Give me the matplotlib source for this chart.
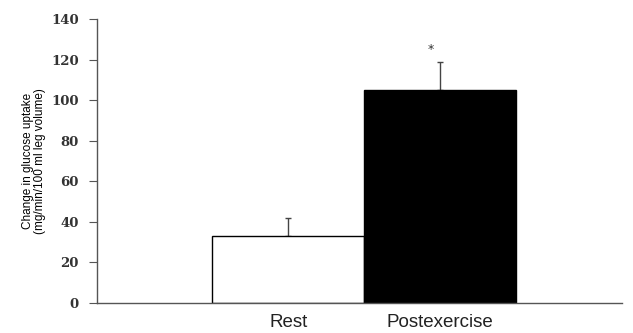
import matplotlib.pyplot as plt

# values
groups = ['Rest', 'Postexercise']
uptake = [33, 105]
sem = [9, 14]
bar_colors = ['white', 'black']

fig = plt.figure(figsize=(6.33, 3.33), dpi=100)
ax = fig.add_axes([0.153, 0.09, 0.83, 0.853])

x = [0, 1]
ax.bar(x, uptake, width=1.0, color=bar_colors, edgecolor='black', linewidth=1.0, zorder=2)
ax.errorbar(x, uptake, yerr=[[0, 0], sem], fmt='none', ecolor='#444444',
            elinewidth=1.0, capsize=2.5, capthick=1.0, zorder=1)
# significance marker above postexercise
ax.text(1 - 0.06, uptake[1] + sem[1] + 3, '*', ha='center', va='bottom',
        fontsize=9, color='#333333')

ax.set_xlim(-1.26, 2.2)
ax.set_ylim(0, 140)
ax.set_yticks(range(0, 141, 20))
ax.set_xticks(x)
ax.set_xticklabels(groups, family='Liberation Sans', fontsize=13.5, color='#222222')
ax.tick_params(axis='x', length=0, pad=8)
ax.tick_params(axis='y', direction='out', length=6, width=0.8, color='#555555', pad=7)
for lab in ax.get_yticklabels():
    lab.set_family('DejaVu Serif')
    lab.set_fontweight('bold')
    lab.set_fontsize(9.5)
    lab.set_color('#333333')

for side in ['top', 'right']:
    ax.spines[side].set_visible(False)
for side in ['left', 'bottom']:
    ax.spines[side].set_color('#555555')
    ax.spines[side].set_linewidth(1.0)

ax.set_ylabel('Change in glucose uptake\n(mg/min/100 ml leg volume)',
              family='Liberation Sans', fontsize=8.5, linespacing=1.0, labelpad=4)

fig.savefig('out.png', dpi=100)
